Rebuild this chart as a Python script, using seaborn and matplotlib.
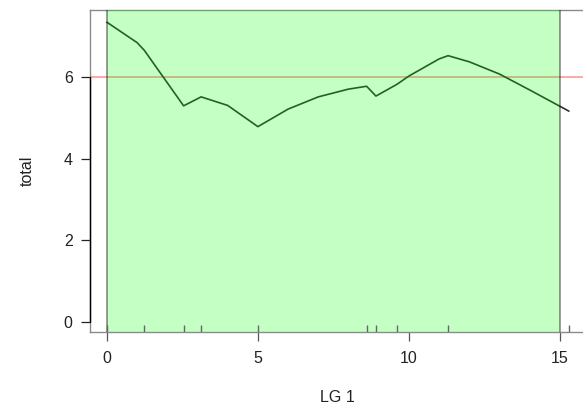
import matplotlib
matplotlib.use('Agg')
import matplotlib.pyplot as plt
import pandas as pd
import seaborn as sns
from matplotlib.patches import Rectangle

# LOD profile along linkage group 1
pos = [0, 1.0, 1.24, 2.54, 3.12, 4.0, 5.0, 6.0, 7.0, 8.0, 8.6, 8.91, 9.61,
       10.0, 11.0, 11.3, 12.0, 13.0, 14.0, 15.0, 15.3]
lod = [7.35, 6.85, 6.66, 5.30, 5.52, 5.31, 4.79, 5.22, 5.52, 5.71, 5.78, 5.54, 5.83,
       6.03, 6.45, 6.53, 6.38, 6.08, 5.69, 5.29, 5.17]

# marker positions (rug)
markers = [0, 1.24, 2.54, 3.12, 5.0, 8.6, 8.91, 9.61, 11.3, 15.3]

threshold = 6.0
interval = [0, 15]

df = pd.DataFrame({'pos': pos, 'total': lod})

sns.set_style('white')
plt.rcParams['font.family'] = ['Liberation Sans', 'DejaVu Sans']

fig = plt.figure(figsize=(5.83, 4.07), dpi=100)
ax = fig.add_axes([90/583, 75/407, 494/583, 322/407])

ax.axhline(threshold, color='#ff9a9a', lw=1.2, zorder=1)
sns.lineplot(data=df, x='pos', y='total', color='#303030', lw=1.2, ax=ax, zorder=2)
ax.add_patch(Rectangle((interval[0], -10), interval[1] - interval[0], 30,
                       facecolor=(0, 1, 0, 0.23), edgecolor=(0, 0, 0, 0.45),
                       lw=1.2, zorder=3))
sns.rugplot(x=markers, height=0.022, color='#666666', lw=1, ax=ax, zorder=4)

ax.set_xlim(-0.56, 15.8)
ax.set_ylim(-0.245, 7.65)
ax.set_xticks([0, 5, 10, 15])
ax.set_yticks([0, 2, 4, 6])

for s in ax.spines.values():
    s.set_color('#8a8a8a')
    s.set_linewidth(1)
# R-style axis line on the left, spanning the tick range
ax.plot([-0.56, -0.56], [0, 6], color='black', lw=1, clip_on=False, zorder=5)

ax.tick_params(axis='both', direction='out', length=6.5, width=0.9,
               labelsize=11.5, labelcolor='#222222', pad=6,
               left=True, bottom=True)
ax.tick_params(axis='y', color='#222222')
ax.tick_params(axis='x', color='#555555', pad=7)

ax.set_xlabel('LG 1', fontsize=11.5, color='#222222', va='center')
ax.set_ylabel('total', fontsize=11.5, color='#222222', va='center')
ax.xaxis.set_label_coords(0.5, -0.202)
ax.yaxis.set_label_coords(-0.1275, 0.5)

fig.savefig('out.png', dpi=100)
